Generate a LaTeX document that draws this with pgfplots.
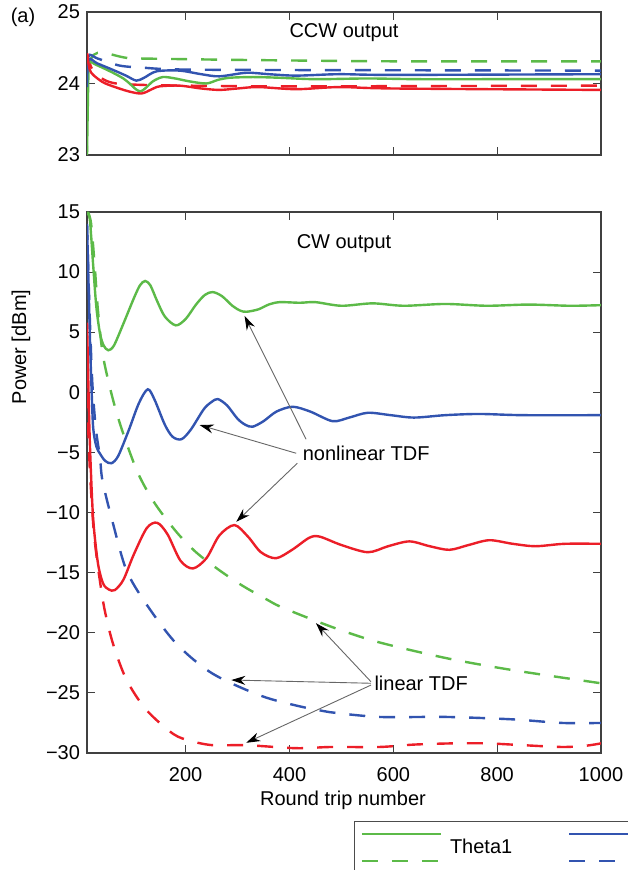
\documentclass[border=0pt]{standalone}
\usepackage{fontspec}
\setmainfont{Liberation Sans}
\usepackage{pgfplots}
\pgfplotsset{compat=1.18}
\usetikzlibrary{arrows.meta}
\definecolor{cg}{RGB}{92,186,72}
\definecolor{cb}{RGB}{50,84,176}
\definecolor{cr}{RGB}{236,30,40}
\pgfplotsset{
  base/.style={
    scale only axis, width=257pt,
    xmin=10, xmax=1000,
    xtick={200,400,600,800,1000},
    tick align=inside, tick pos=both,
    major tick length=4pt,
    axis line style={line width=0.9pt, black!75},
    tick style={line width=0.6pt, black!75},
    every tick label/.append style={font=\fontsize{10}{12}\selectfont},
    /pgf/number format/assume math mode=true,
    /pgf/number format/1000 sep={},
    xticklabel style={yshift=-3.5pt},
    clip=true,
  },
  sol/.style={line width=1.2pt, smooth},
  das/.style={line width=1.2pt, smooth, dash pattern=on 8pt off 7pt},
}
\begin{document}
\begin{tikzpicture}[font=\fontsize{10}{12}\selectfont]
% ---------- top axis: CCW ----------
\begin{axis}[base, height=71.5pt, at={(43.5pt,357.5pt)}, anchor=south west,
  ymin=23, ymax=25, ytick={23,24,25}, xticklabels={}]
\addplot[cg, das] coordinates {(10,23.0) (18,24.35) (100,24.35) (300,24.33) (600,24.31) (1000,24.31)};
\addplot[cb, das] coordinates {(10,23.95) (13,24.38) (30,24.35) (73,24.25) (120,24.22) (169,24.2) (297,24.19) (1000,24.18)};
\addplot[cr, das] coordinates {(10,24.42) (20,24.2) (41,24.06) (66,24.0) (118,23.98) (200,23.97) (400,23.96) (1000,23.97)};
\addplot[cg, sol] coordinates {(10,23.0) (13,24.2) (16,24.3) (25,24.27) (40,24.22) (60,24.15) (80,24.07) (92,24.0) (104,23.92) (113,23.89) (122,23.93) (137,24.03) (156,24.09) (180,24.07) (207,24.03) (240,24.0) (262,24.05) (285,24.08) (330,24.09) (381,24.08) (450,24.06) (550,24.07) (650,24.06) (800,24.06) (1000,24.06)};
\addplot[cb, sol] coordinates {(10,23.95) (13,24.33) (30,24.28) (60,24.19) (85,24.11) (105,24.04) (120,24.08) (144,24.17) (188,24.18) (230,24.13) (265,24.10) (317,24.15) (360,24.13) (413,24.11) (496,24.13) (600,24.12) (1000,24.13)};
\addplot[cr, sol] coordinates {(10,24.42) (15,24.2) (22,24.12) (40,24.02) (60,23.96) (90,23.89) (115,23.86) (135,23.92) (150,23.96) (188,23.97) (230,23.93) (265,23.91) (300,23.93) (340,23.95) (413,23.92) (496,23.95) (600,23.93) (1000,23.91)};
\node at (axis cs:505,24.71) {CCW output};
\end{axis}
% ---------- bottom axis: CW ----------
\begin{axis}[base, height=270.5pt, at={(43.5pt,58.5pt)}, anchor=south west,
  ymin=-30, ymax=15, ytick={-30,-25,-20,-15,-10,-5,0,5,10,15},
  yticklabels={−30,−25,−20,−15,−10,−5,0,5,10,15},
  legend style={at={(axis description cs:0.5195,-0.1257)}, anchor=north west,
    draw=black!70, line width=0.6pt, font=\fontsize{10}{12}\selectfont,
    inner ysep=5.5pt,
    /tikz/every odd column/.append style={column sep=2pt},
    /tikz/every even column/.append style={column sep=26pt}},
  legend columns=-1]
\addlegendimage{legend image code/.code={
  \draw[cg, line width=1.2pt] (0pt,6.75pt) -- (39.5pt,6.75pt);
  \draw[cg, line width=1.2pt, dash pattern=on 8pt off 7pt] (0pt,-6.75pt) -- (39.5pt,-6.75pt);}}
\addlegendentry{Theta1}
\addlegendimage{legend image code/.code={
  \draw[cb, line width=1.2pt] (0pt,6.75pt) -- (39.5pt,6.75pt);
  \draw[cb, line width=1.2pt, dash pattern=on 8pt off 7pt] (0pt,-6.75pt) -- (39.5pt,-6.75pt);}}
\addlegendentry{Theta2}
\addlegendimage{legend image code/.code={
  \draw[cr, line width=1.2pt] (0pt,6.75pt) -- (39.5pt,6.75pt);
  \draw[cr, line width=1.2pt, dash pattern=on 8pt off 7pt] (0pt,-6.75pt) -- (39.5pt,-6.75pt);}}
\addlegendentry{Theta3}
\addplot[cg, das, forget plot] coordinates {(12,15) (18,14) (25,10.45) (31,6.85) (41,3.0) (60,-0.6) (79.5,-3.4) (108,-6.7) (140,-9.2) (182,-11.6) (220,-13.3) (265,-14.8) (310,-16.1) (355,-17.2) (381,-17.8) (438,-18.8) (500,-19.8) (573,-20.8) (701,-22.1) (829,-23.1) (1000,-24.2)};
\addplot[cb, das, forget plot] coordinates {(10,14) (14,8) (20,1) (27,-3) (35,-5.4) (40,-7.4) (60,-10.9) (86,-14.8) (124,-17.6) (182,-20.9) (252,-23.4) (349,-25.3) (438,-26.3) (477,-26.6) (573,-27.0) (701,-27.0) (829,-27.2) (925,-27.5) (1000,-27.5)};
\addplot[cr, das, forget plot] coordinates {(10,0) (15,-6) (22,-11) (28,-13.5) (34.6,-15.6) (44,-18.1) (60,-20.9) (86,-23.9) (124,-26.4) (175.6,-28.4) (210,-29.0) (252,-29.35) (317,-29.35) (413,-29.6) (480,-29.5) (573,-29.5) (640,-29.3) (714,-29.2) (780,-29.2) (850,-29.35) (925,-29.5) (970,-29.4) (1000,-29.2)};
\addplot[cg, sol, forget plot] coordinates {(10,15) (15,14.5) (18,13) (22,10.5) (28,7.1) (35,4.9) (42,3.9) (51,3.5) (62,3.9) (80,5.7) (100,7.8) (112,8.9) (122,9.26) (132,8.9) (145,7.6) (160,6.3) (181,5.57) (200,6.1) (220,7.3) (237,8.1) (252,8.34) (270,8.0) (290,7.2) (305,6.8) (317,6.7) (340,6.9) (360,7.3) (381,7.5) (420,7.45) (450,7.5) (500,7.2) (560,7.4) (620,7.2) (700,7.35) (780,7.2) (860,7.3) (940,7.2) (1000,7.25)};
\addplot[cb, sol, forget plot] coordinates {(10,14) (13,9) (16,4) (19,0) (22,-3) (28,-4.5) (35,-5.1) (45,-5.7) (57,-5.9) (70,-5.3) (90,-3.2) (110,-0.9) (127,0.25) (140,-0.6) (160,-2.7) (175,-3.7) (192,-3.9) (210,-3.1) (235,-1.4) (250,-0.8) (262,-0.56) (280,-1.1) (300,-2.2) (315,-2.7) (329,-2.86) (350,-2.4) (375,-1.6) (406,-1.2) (440,-1.6) (483,-2.4) (515,-2.1) (551,-1.7) (595,-1.9) (640,-2.1) (700,-1.9) (765,-1.8) (850,-1.9) (1000,-1.9)};
\addplot[cr, sol, forget plot] coordinates {(10,5.8) (12,2) (14,-2) (17,-6) (22,-10.6) (31,-14.2) (41,-15.9) (52,-16.4) (63.5,-16.45) (80,-15.6) (100,-13.5) (125,-11.3) (145,-10.85) (165,-11.8) (190,-14.0) (214,-14.65) (240,-13.8) (265,-11.9) (294,-11.04) (320,-12.0) (345,-13.3) (374,-13.8) (405,-13.1) (438,-12.1) (458,-12.0) (500,-12.7) (551,-13.3) (590,-12.8) (631,-12.4) (670,-12.8) (708,-13.1) (745,-12.7) (785,-12.3) (830,-12.6) (874,-12.8) (930,-12.6) (1000,-12.6)};
\node at (axis cs:505,12.4) {CW output};
\node[anchor=west, inner sep=0pt] at (axis cs:425,-5.05) {nonlinear TDF};
\node[anchor=west, inner sep=0pt] at (axis cs:563,-24.2) {linear TDF};
\begin{scope}[black!60, line width=0.45pt, -{Stealth[length=7pt,width=4.5pt,black]}]
\draw (axis cs:432,-3.9) -- (axis cs:313.5,6.35);
\draw (axis cs:413,-5.07) -- (axis cs:227,-2.72);
\draw (axis cs:415,-5.9) -- (axis cs:297.5,-10.77);
\draw (axis cs:557,-24.07) -- (axis cs:451,-19.2);
\draw (axis cs:557,-24.2) -- (axis cs:288,-23.93);
\draw (axis cs:557,-24.35) -- (axis cs:316.7,-29.15);
\end{scope}
\end{axis}
\node at (11.5pt,426.5pt) {(a)};
\node[rotate=90] at (10.5pt,261.5pt) {Power [dBm]};
\node at (171.5pt,35pt) {Round trip number};
\pgfresetboundingbox
\useasboundingbox (0pt,0pt) rectangle (313.5pt,435pt);
\end{tikzpicture}
\end{document}
